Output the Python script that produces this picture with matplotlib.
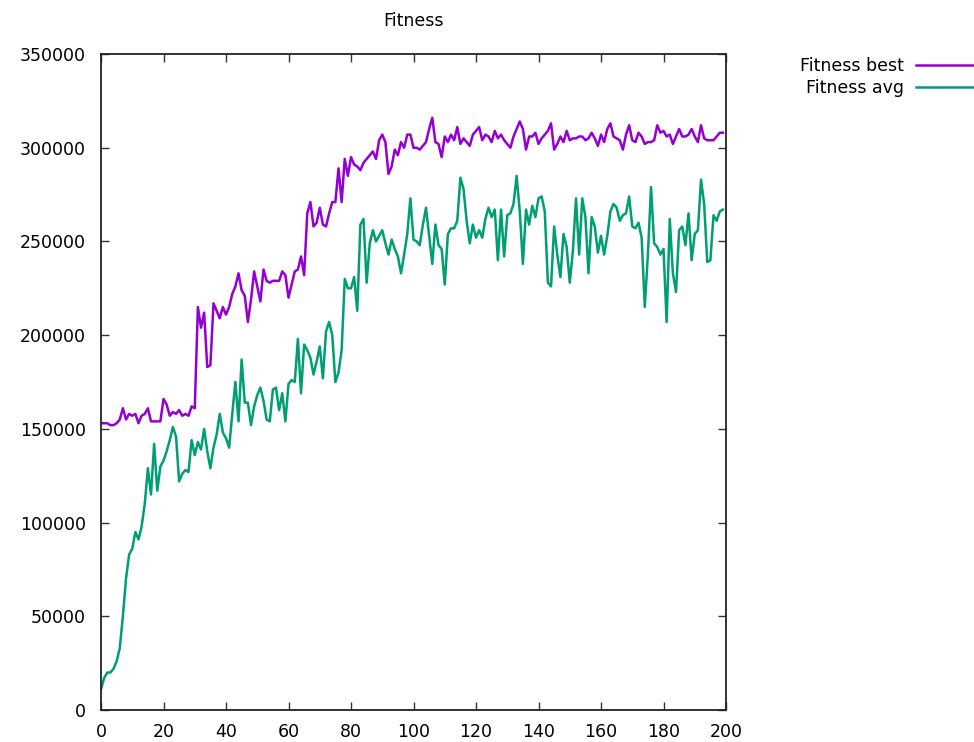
import numpy as np
import matplotlib
matplotlib.use('Agg')
from matplotlib import pyplot as plt

# fitness per generation, in thousands
best_k = [153, 153, 153, 152, 152, 153, 155, 161, 155, 158,
          157, 158, 153, 157, 158, 161, 154, 154, 154, 154,
          166, 163, 157, 159, 158, 160, 157, 158, 157, 162,
          161, 215, 204, 212, 183, 184, 217, 213, 209, 215,
          211, 215, 222, 226, 233, 224, 221, 207, 219, 234,
          226, 218, 235, 229, 228, 229, 229, 229, 234, 232,
          220, 227, 234, 235, 242, 232, 265, 271, 258, 260,
          268, 259, 258, 265, 271, 271, 289, 271, 294, 285,
          295, 291, 290, 288, 292, 294, 296, 298, 294, 304,
          307, 303, 286, 290, 299, 296, 303, 300, 307, 307,
          300, 300, 299, 301, 303, 310, 316, 303, 302, 295,
          306, 303, 307, 304, 311, 302, 305, 303, 301, 307,
          309, 311, 304, 307, 306, 303, 309, 305, 307, 304,
          302, 300, 306, 310, 314, 310, 299, 306, 306, 308,
          302, 305, 307, 309, 313, 299, 302, 306, 303, 309,
          304, 305, 305, 306, 306, 304, 305, 308, 305, 301,
          307, 303, 310, 313, 306, 305, 304, 299, 307, 312,
          304, 303, 308, 306, 302, 303, 303, 304, 312, 308,
          309, 306, 307, 302, 306, 310, 306, 306, 307, 310,
          306, 303, 312, 305, 304, 304, 304, 306, 308, 308]

avg_k = [11, 17, 20, 20, 22, 26, 33, 50, 70, 83,
         86, 95, 91, 98, 110, 129, 115, 142, 117, 130,
         133, 138, 144, 151, 146, 122, 126, 128, 127, 144,
         136, 143, 139, 150, 138, 129, 140, 147, 158, 148,
         145, 140, 158, 175, 154, 187, 164, 164, 152, 162,
         168, 172, 165, 155, 154, 171, 172, 160, 169, 154,
         174, 176, 175, 198, 169, 195, 192, 188, 179, 186,
         194, 177, 202, 207, 200, 175, 180, 192, 230, 225,
         225, 231, 213, 259, 262, 228, 249, 256, 250, 253,
         256, 249, 243, 251, 246, 242, 233, 243, 254, 273,
         251, 250, 248, 259, 268, 253, 238, 259, 248, 246,
         227, 254, 257, 257, 261, 284, 278, 261, 249, 259,
         252, 256, 252, 262, 268, 263, 267, 240, 267, 242,
         264, 265, 270, 285, 266, 238, 267, 259, 269, 263,
         273, 274, 266, 228, 226, 258, 243, 231, 254, 247,
         228, 245, 273, 243, 273, 263, 233, 263, 258, 244,
         253, 243, 253, 266, 270, 268, 261, 264, 265, 274,
         258, 257, 260, 252, 215, 243, 279, 249, 247, 243,
         246, 207, 262, 233, 223, 256, 258, 248, 265, 240,
         254, 256, 283, 270, 239, 240, 264, 261, 266, 267]

generation = np.arange(len(best_k))
best = np.array(best_k) * 1000
avg = np.array(avg_k) * 1000

plt.rcParams['font.family'] = 'DejaVu Sans'
fig = plt.figure(figsize=(9.74, 7.42), dpi=100)
ax = fig.add_axes([0.1037, 0.0431, 0.6417, 0.8841])

ax.plot(generation, best, color='#9400D3', lw=1.8, label='Fitness best')
ax.plot(generation, avg, color='#009E73', lw=1.8, label='Fitness avg')

ax.set_xlim(0, 200)
ax.set_ylim(0, 350000)
ax.set_xticks(np.arange(0, 201, 20))
ax.set_yticks(np.arange(0, 350001, 50000))
ax.tick_params(direction='in', length=6, width=1, top=True, right=True,
               labelsize=12.5, color='#333333')
ax.tick_params(axis='y', pad=11)
ax.tick_params(axis='x', pad=9)
for s in ax.spines.values():
    s.set_linewidth(1.3)
    s.set_color('#222222')

ax.set_title('Fitness', fontsize=12.5, pad=20)

# gnuplot-style key: text first, sample line running off the right edge
ax.legend(loc='upper right', bbox_to_anchor=(1.008, 0.923),
          bbox_transform=fig.transFigure, frameon=False, markerfirst=False,
          fontsize=12.5, handlelength=3.8, handletextpad=0.7,
          borderpad=0, borderaxespad=0, labelspacing=0.25)

plt.savefig('out.png', dpi=100)
